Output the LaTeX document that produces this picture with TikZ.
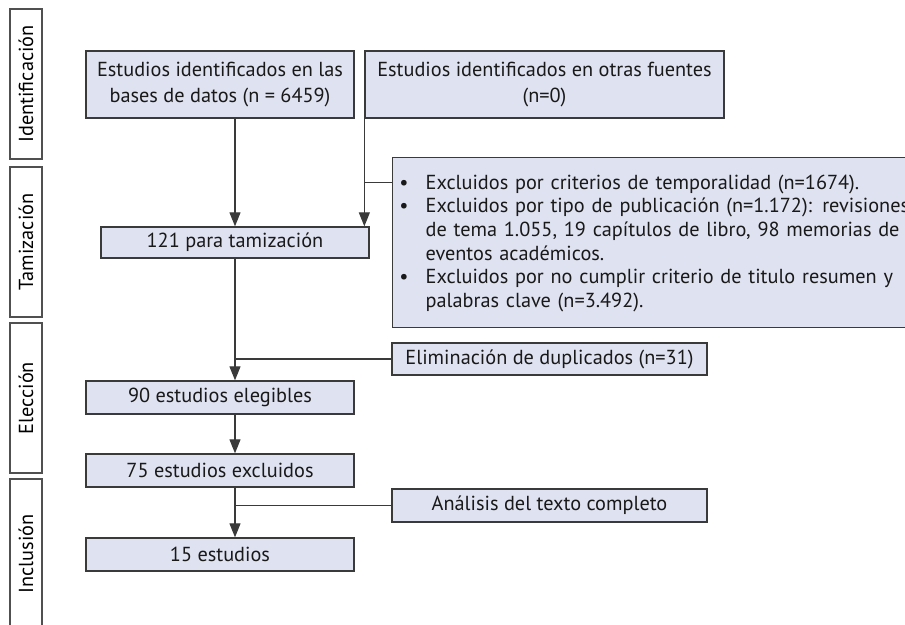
\documentclass[tikz,border=0pt]{standalone}
\usepackage{fontspec}
\setmainfont{PT Sans}
\usetikzlibrary{arrows.meta,calc}
\definecolor{boxfill}{RGB}{223,226,240}
\definecolor{boxline}{RGB}{58,58,58}
\definecolor{stageline}{RGB}{80,80,80}

\begin{document}
\begin{tikzpicture}[x=1pt,y=-1pt,
  box/.style={draw=boxline,fill=boxfill,line width=1.3pt,inner sep=0pt,text=black!90,
    font=\fontsize{20.3}{26}\selectfont},
  stage/.style={draw=stageline,fill=white,line width=1.4pt,inner sep=0pt,rotate=90,
    minimum width=150pt,minimum height=32pt,font=\fontsize{20.3}{24}\selectfont},
  flow/.style={draw=boxline,line width=1.1pt,-{Triangle[length=14pt,width=11pt]}},
  link/.style={draw=boxline,line width=1.1pt}]
\useasboundingbox (0,0) rectangle (905,624);
\clip (0,0) rectangle (905,624);
%stages
\node[stage] (ident) at (26,84) {Identificación};
\node[stage] (tamiz) at (26,242) {Tamización};
\node[stage] (elecc) at (26,398) {Elección};
\node[stage] (inclu) at (26,554) {Inclusión};
%boxes
\node[box,minimum width=268pt,minimum height=67pt,align=center] (db) at (220,84.5)
  {Estudios identificados en las\\bases de datos (n = 6459)};
\node[box,minimum width=359pt,minimum height=67pt,align=center] (otras) at (544.5,84.5)
  {Estudios identificados en otras fuentes\\(n=0)};
\node[box,minimum width=268pt,minimum height=31pt] (tam) at (235,242.5) {121 para tamización};
\node[box,anchor=north west,minimum height=170pt,text width=520pt,
  font=\fontsize{20.3}{23.6}\selectfont] (excl) at (392,157) {%
  \vspace*{-8pt}
  \begin{list}{\textbullet}{\setlength{\leftmargin}{33pt}\setlength{\labelsep}{17pt}%
    \setlength{\labelwidth}{16pt}\setlength{\itemsep}{0pt}\setlength{\topsep}{0pt}%
    \setlength{\parsep}{0pt}\setlength{\partopsep}{0pt}}
  \item Excluidos por criterios de temporalidad (n=1674).
  \item Excluidos por tipo de publicación (n=1.172): revisiones\linebreak
    de tema 1.055, 19 capítulos de libro, 98 memorias de\linebreak
    eventos académicos.
  \item Excluidos por no cumplir criterio de titulo resumen y\linebreak
    palabras clave (n=3.492).
  \end{list}};
\node[box,minimum width=315pt,minimum height=32pt] (dup) at (549.5,359) {Eliminación de duplicados (n=31)};
\node[box,minimum width=268pt,minimum height=33pt] (eleg) at (220,397.5) {90 estudios elegibles};
\node[box,minimum width=268pt,minimum height=33pt] (excl75) at (220,470.5) {75 estudios excluidos};
\node[box,minimum width=315pt,minimum height=33pt] (anal) at (549.5,505.5) {Análisis del texto completo};
\node[box,minimum width=268pt,minimum height=33pt] (fin) at (220,554.5) {15 estudios};
%arrows
\coordinate (cut) at ($(otras.south west)+(0,64)$);
\draw[flow] (db.south -| tam.north) -- (tam.north);
\draw[flow] (otras.south west) -- (otras.south west |- tam.north);
\draw[link] (cut) -- (cut -| excl.west);
\draw[flow] (tam.south) -- (tam.south |- eleg.north);
\draw[link] (tam.south |- dup.west) -- (dup.west);
\draw[flow] (eleg.south -| tam.south) -- (excl75.north -| tam.south);
\draw[flow] (excl75.south -| tam.south) -- (fin.north -| tam.south);
\draw[link] (tam.south |- anal.west) -- (anal.west);
\end{tikzpicture}
\end{document}
